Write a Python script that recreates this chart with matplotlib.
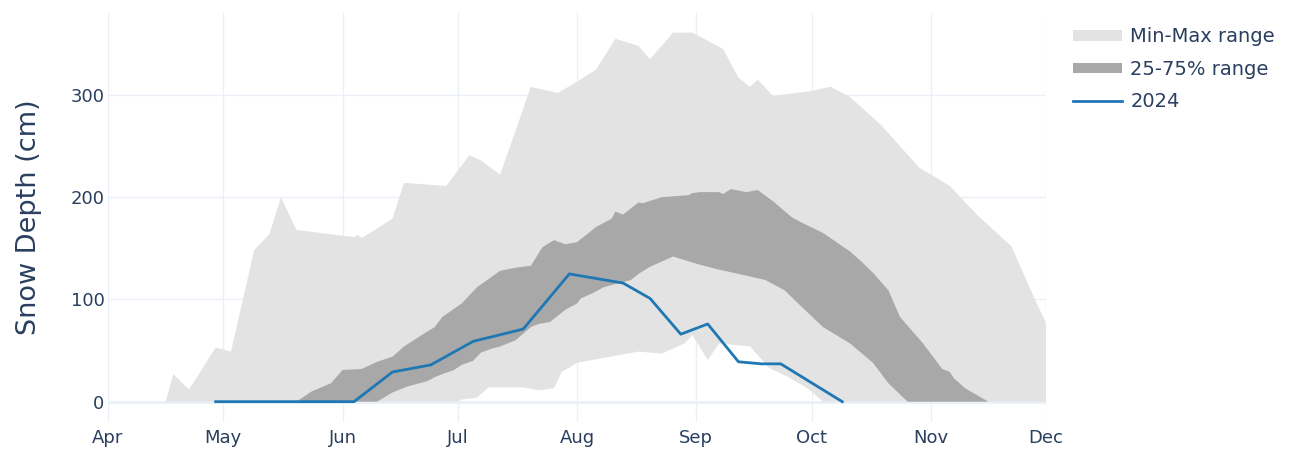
import matplotlib
matplotlib.use("Agg")
import matplotlib.pyplot as plt
import matplotlib.dates as mdates
import numpy as np
from matplotlib.patches import Patch
from matplotlib.lines import Line2D

# ---------------- data ----------------
max_dates = ["2024-04-16", "2024-04-18", "2024-04-22", "2024-04-24", "2024-04-29", "2024-05-03",
             "2024-05-09", "2024-05-13", "2024-05-16", "2024-05-20", "2024-06-04", "2024-06-05",
             "2024-06-06", "2024-06-14", "2024-06-17", "2024-06-28", "2024-07-04", "2024-07-07",
             "2024-07-12", "2024-07-20", "2024-07-27", "2024-08-01", "2024-08-06", "2024-08-11",
             "2024-08-17", "2024-08-20", "2024-08-26", "2024-08-31", "2024-09-08", "2024-09-12",
             "2024-09-15", "2024-09-17", "2024-09-21", "2024-10-01", "2024-10-06", "2024-10-11",
             "2024-10-19", "2024-10-29", "2024-11-06", "2024-11-13", "2024-11-22", "2024-11-28",
             "2024-12-01"]
max_vals = [0, 27, 12, 23, 53, 49,
            148, 164, 200, 168, 161, 163,
            160, 179, 214, 211, 241, 236,
            222, 308, 302, 313, 325, 355,
            348, 335, 361, 361, 345, 317,
            308, 315, 299, 304, 308, 298,
            271, 229, 211, 183, 152, 101,
            77]

min_dates = ["2024-04-16", "2024-07-01", "2024-07-02", "2024-07-06", "2024-07-09", "2024-07-18",
             "2024-07-22", "2024-07-26", "2024-07-28", "2024-08-01", "2024-08-14", "2024-08-17",
             "2024-08-23", "2024-08-29", "2024-08-31", "2024-09-04", "2024-09-07", "2024-09-15",
             "2024-09-20", "2024-09-25", "2024-09-30", "2024-10-04", "2024-12-01"]
min_vals = [0, 0, 2, 4, 14, 14,
            11, 13, 29, 38, 47, 49,
            47, 57, 65, 41, 57, 54,
            33, 24, 13, 0, 0]

p75_dates = ["2024-05-20", "2024-05-24", "2024-05-29", "2024-06-01", "2024-06-06", "2024-06-10",
             "2024-06-14", "2024-06-17", "2024-06-22", "2024-06-25", "2024-06-27", "2024-07-02",
             "2024-07-06", "2024-07-12", "2024-07-16", "2024-07-20", "2024-07-23", "2024-07-26",
             "2024-07-29", "2024-08-01", "2024-08-06", "2024-08-10", "2024-08-11", "2024-08-13",
             "2024-08-17", "2024-08-18", "2024-08-23", "2024-08-30", "2024-08-31", "2024-09-02",
             "2024-09-07", "2024-09-08", "2024-09-10", "2024-09-14", "2024-09-17", "2024-09-21",
             "2024-09-26", "2024-09-28", "2024-10-04", "2024-10-11", "2024-10-14", "2024-10-17",
             "2024-10-21", "2024-10-24", "2024-10-30", "2024-11-04", "2024-11-06", "2024-11-07",
             "2024-11-10", "2024-11-16"]
p75_vals = [0, 10, 18, 31, 32, 39,
            44, 54, 66, 73, 83, 96,
            112, 128, 131, 133, 151, 158,
            154, 156, 171, 179, 186, 183,
            195, 194, 200, 202, 204, 205,
            205, 203, 208, 205, 207, 196,
            180, 176, 165, 147, 137, 126,
            109, 83, 57, 32, 29, 23,
            13, 0]

p25_dates = ["2024-05-20", "2024-06-10", "2024-06-14", "2024-06-18", "2024-06-23", "2024-06-25",
             "2024-06-27", "2024-06-30", "2024-07-02", "2024-07-05", "2024-07-07", "2024-07-10",
             "2024-07-12", "2024-07-16", "2024-07-20", "2024-07-22", "2024-07-25", "2024-07-29",
             "2024-08-01", "2024-08-02", "2024-08-05", "2024-08-08", "2024-08-13", "2024-08-15",
             "2024-08-17", "2024-08-20", "2024-08-26", "2024-09-01", "2024-09-06", "2024-09-12",
             "2024-09-19", "2024-09-24", "2024-09-27", "2024-10-04", "2024-10-11", "2024-10-17",
             "2024-10-21", "2024-10-26", "2024-11-16"]
p25_vals = [0, 0, 9, 15, 20, 24,
            27, 31, 36, 40, 48, 52,
            54, 60, 73, 76, 78, 90,
            96, 101, 106, 112, 117, 119,
            125, 132, 142, 135, 130, 125,
            119, 109, 98, 73, 57, 38,
            18, 0, 0]

y2024_dates = ["2024-04-29", "2024-06-04", "2024-06-14", "2024-06-24", "2024-07-05", "2024-07-18",
               "2024-07-30", "2024-08-13", "2024-08-20", "2024-08-28", "2024-09-04", "2024-09-12",
               "2024-09-18", "2024-09-23", "2024-10-09"]
y2024_vals = [0, 0, 29, 36, 59, 71,
              125, 116, 101, 66, 76, 39,
              37, 37, 0]

legend_labels = ["Min-Max range", "25-75% range", "2024"]
y_ticks = [0, 100, 200, 300]
x_start, x_end = "2024-04-01", "2024-12-01"

# ---------------- style ----------------
LIGHT = "#e3e3e3"
DARK = "#a8a8a8"
BLUE = "#1f77b4"
TEXT = "#2a3f5f"
GRID = "#EBF0F8"
W, H = 1289, 449


def dn(lst):
    return mdates.date2num(np.array(lst, dtype="datetime64[D]"))


fig = plt.figure(figsize=(W / 100, H / 100), dpi=100)
ax = fig.add_axes([108 / W, (H - 421.7) / H, 938 / W, 409 / H])

# Min-Max band
xs = np.concatenate([dn(max_dates), dn(min_dates)[::-1]])
ys = np.concatenate([np.array(max_vals, float), np.array(min_vals, float)[::-1]])
ax.fill(xs, ys, color=LIGHT, lw=0, zorder=2)

# 25-75 band
xs = np.concatenate([dn(p75_dates), dn(p25_dates)[::-1]])
ys = np.concatenate([np.array(p75_vals, float), np.array(p25_vals, float)[::-1]])
ax.fill(xs, ys, color=DARK, lw=0, zorder=3)

# 2024 line
ax.plot(dn(y2024_dates), y2024_vals, color=BLUE, lw=2, zorder=4, solid_joinstyle="round")

ax.axhline(0, color=GRID, lw=2, zorder=1)

ax.set_xlim(dn([x_start])[0], dn([x_end])[0])
ax.set_ylim(-19.6, 380.5)
ax.xaxis.set_major_locator(mdates.MonthLocator())
ax.xaxis.set_major_formatter(mdates.DateFormatter("%b"))
ax.set_yticks(y_ticks)
ax.grid(True, color=GRID, lw=1, zorder=0)
ax.set_axisbelow(True)
for s in ax.spines.values():
    s.set_visible(False)
ax.tick_params(length=0, colors=TEXT, labelsize=13)
ax.tick_params(axis="x", pad=5.5)
ax.tick_params(axis="y", pad=2.5)

ax.set_ylabel("Snow Depth (cm)", fontsize=19.5, color=TEXT, va="center")
ax.yaxis.set_label_coords((29 - 108) / 938, 0.5)

handles = [Patch(facecolor=LIGHT, edgecolor="none"),
           Patch(facecolor=DARK, edgecolor="none"),
           Line2D([], [], color=BLUE, lw=2)]
fig.legend(handles, legend_labels, loc="upper left",
           bbox_to_anchor=(1073 / W, 1 - 27.5 / H), frameon=False, fontsize=14,
           handlelength=2.5, handleheight=0.45, handletextpad=0.45,
           labelspacing=0.68, borderpad=0, borderaxespad=0, labelcolor=TEXT)

fig.savefig("out.png", dpi=100, facecolor="white")
